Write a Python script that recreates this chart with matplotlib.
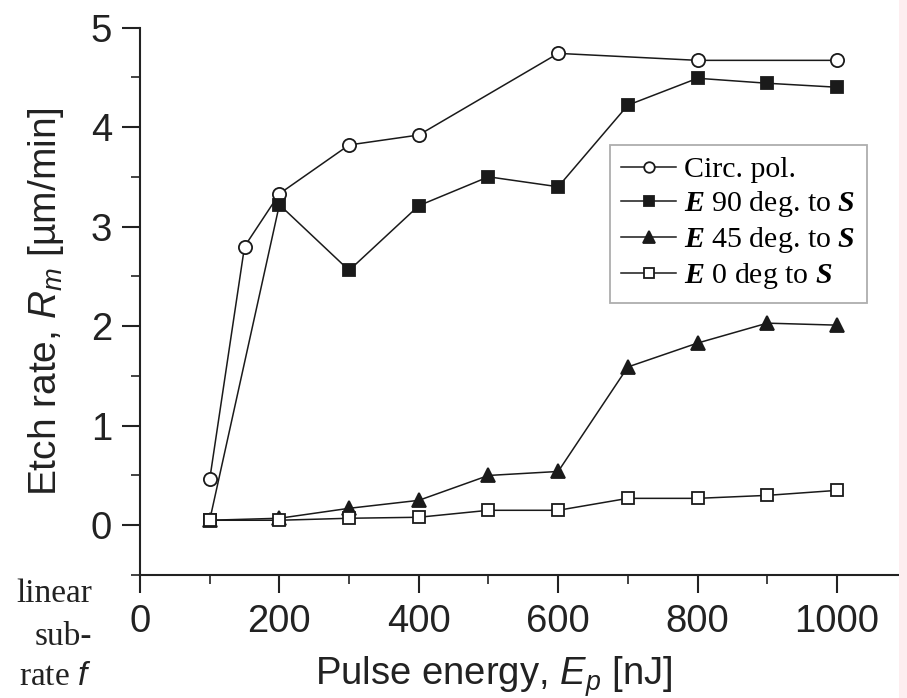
import matplotlib
matplotlib.use("Agg")
import matplotlib.pyplot as plt
from matplotlib.ticker import MultipleLocator
from matplotlib.patches import Rectangle

# ---- data ----
x_circ = [100, 150, 200, 300, 400, 600, 800, 1000]
y_circ = [0.46, 2.80, 3.33, 3.82, 3.92, 4.74, 4.67, 4.67]

x_all = [100, 200, 300, 400, 500, 600, 700, 800, 900, 1000]
y_e90 = [0.05, 3.22, 2.56, 3.21, 3.50, 3.40, 4.22, 4.49, 4.44, 4.40]
y_e45 = [0.05, 0.07, 0.17, 0.25, 0.50, 0.54, 1.59, 1.83, 2.03, 2.01]
y_e0 = [0.05, 0.05, 0.07, 0.08, 0.15, 0.15, 0.27, 0.27, 0.30, 0.35]

labels = ["Circ. pol.",
          r"$\mathbf{E}$ 90 deg. to $\mathbf{S}$",
          r"$\mathbf{E}$ 45 deg. to $\mathbf{S}$",
          r"$\mathbf{E}$ 0 deg to $\mathbf{S}$"]

x_ticks = [0, 200, 400, 600, 800, 1000]
y_ticks = [0, 1, 2, 3, 4, 5]

plt.rcParams["font.family"] = ["Liberation Sans", "DejaVu Sans"]
plt.rcParams["mathtext.fontset"] = "custom"
plt.rcParams["mathtext.rm"] = "Liberation Sans"
plt.rcParams["mathtext.it"] = "Liberation Sans:italic"
plt.rcParams["mathtext.bf"] = "Liberation Serif:bold:italic"

W, H = 907, 698
fig = plt.figure(figsize=(W / 100, H / 100), dpi=100)
ax = fig.add_axes([140 / W, 123 / H, 759 / W, 547.5 / H])

lc = "#1a1a1a"
common = dict(color=lc, lw=1.1, mec=lc, mew=1.3)
ax.plot(x_circ, y_circ, marker="o", ms=9.5, mfc="white", label=labels[0], **common)
ax.plot(x_all, y_e90, marker="s", ms=9, mfc=lc, label=labels[1], **common)
ax.plot(x_all, y_e45, marker="^", ms=10, mfc=lc, label=labels[2], **common)
ax.plot(x_all, y_e0, marker="s", ms=8.5, mfc="white", label=labels[3], **common)

ax.set_xlim(0, 1089)
ax.set_ylim(-0.5, 5)
ax.set_xticks(x_ticks)
ax.set_yticks(y_ticks)
ax.xaxis.set_minor_locator(MultipleLocator(100))
ax.yaxis.set_minor_locator(MultipleLocator(0.5))
for s in ("top", "right"):
    ax.spines[s].set_visible(False)
for s in ("left", "bottom"):
    ax.spines[s].set_linewidth(1.5)
    ax.spines[s].set_color("#222222")
ax.tick_params(which="major", length=13, width=1.5, direction="out", labelsize=27.5,
               colors="#222222")
ax.tick_params(which="minor", length=6.5, width=1.2, direction="out", colors="#222222")
ax.tick_params(axis="x", which="major", pad=8)
ax.tick_params(axis="y", which="major", pad=7)

ax.set_xlabel(r"Pulse energy, $E_p$ [nJ]", fontsize=27.5, labelpad=3, color="#222222")
ax.xaxis.set_label_coords(0.466, -0.145)
ax.set_ylabel(r"Etch rate, $R_m$ [µm/min]", fontsize=28, labelpad=18, color="#222222")

leg = ax.legend(loc="upper left", bbox_to_anchor=(0.619, 0.785), borderaxespad=0,
                prop={"family": "Liberation Serif", "size": 21.5},
                handlelength=1.85, handletextpad=0.27, labelspacing=0.2,
                borderpad=0.38, fancybox=False, frameon=True, markerscale=0.8)
leg.get_frame().set_edgecolor("#999999")
leg.get_frame().set_linewidth(1.3)

# surrounding page text fragments
for txt, yy in (("linear", 594), ("sub-", 637), (r"rate $\it{f}$", 677)):
    fig.text(92 / W, 1 - yy / H, txt, ha="right", va="center",
             fontsize=24, family="Liberation Serif", color="#222222")

# pink strip at the right edge
fig.patches.append(Rectangle((899 / W, 0), 8 / W, 1, transform=fig.transFigure,
                             facecolor="#fdeef0", edgecolor="none"))

fig.savefig("out.png", dpi=100)
